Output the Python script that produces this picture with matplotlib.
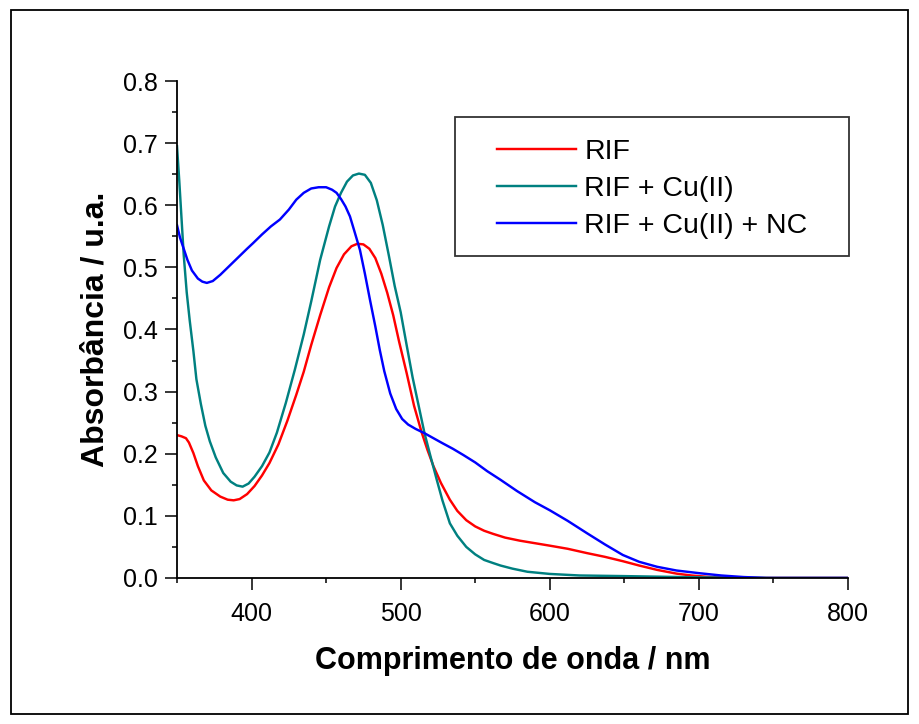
import numpy as np
import matplotlib
matplotlib.use("Agg")
import matplotlib.pyplot as plt
from matplotlib.patches import Rectangle
from matplotlib.ticker import FormatStrFormatter

plt.rcParams['font.family'] = ['Liberation Sans', 'DejaVu Sans']

# UV-Vis spectra (wavelength in nm, absorbance in a.u.)
rif_wl = [350, 353, 356, 358, 361, 364, 368, 373, 379, 384, 388, 392, 397, 402,
          407, 412, 418, 424, 430, 435, 440, 446, 452, 457, 462, 467, 471, 475,
          479, 483, 487, 491, 495, 499, 504, 509, 514, 518, 522, 527, 533, 538,
          544, 550, 556, 562, 570, 580, 590, 600, 612, 625, 637, 649, 660, 672,
          685, 695, 705, 720, 740, 770, 800]
rif_abs = [0.230, 0.228, 0.225, 0.218, 0.201, 0.180, 0.157, 0.141, 0.131, 0.126,
           0.125, 0.127, 0.135, 0.148, 0.165, 0.185, 0.215, 0.253, 0.295, 0.332,
           0.375, 0.423, 0.468, 0.499, 0.521, 0.534, 0.538, 0.537, 0.530, 0.515,
           0.490, 0.459, 0.423, 0.380, 0.330, 0.277, 0.235, 0.206, 0.180, 0.153,
           0.126, 0.108, 0.093, 0.083, 0.076, 0.071, 0.065, 0.060, 0.056, 0.052,
           0.047, 0.040, 0.034, 0.027, 0.020, 0.013, 0.007, 0.004, 0.002, 0.0005,
           0.0, 0.0, 0.0]

cu_wl = [350, 351.5, 353, 354.5, 356.5, 358.5, 361, 363, 366, 369, 372, 376, 381,
         386, 390, 394, 398, 402, 407, 412, 417, 423, 429, 435, 440, 446, 452,
         456, 460, 464, 468, 472, 476, 480, 484, 488, 492, 496, 500, 504, 508,
         512, 516, 520, 524, 528, 533, 538, 544, 550, 556, 562, 567, 575, 585,
         600, 620, 650, 700, 750, 800]
cu_abs = [0.695, 0.640, 0.580, 0.520, 0.460, 0.415, 0.365, 0.320, 0.280, 0.245,
          0.220, 0.194, 0.169, 0.155, 0.149, 0.147, 0.152, 0.163, 0.180, 0.202,
          0.234, 0.282, 0.335, 0.392, 0.445, 0.512, 0.566, 0.598, 0.620, 0.638,
          0.648, 0.651, 0.649, 0.636, 0.608, 0.568, 0.520, 0.470, 0.428, 0.375,
          0.323, 0.278, 0.233, 0.196, 0.160, 0.125, 0.088, 0.068, 0.050, 0.038,
          0.029, 0.024, 0.020, 0.015, 0.010, 0.0065, 0.004, 0.003, 0.001, 0.0,
          0.0]

nc_wl = [350, 352, 354.5, 357, 360, 364, 367, 370, 374, 379, 385, 391, 397, 401,
         407, 413, 419, 425, 430, 435, 440, 445, 450, 454, 457, 460, 463, 466,
         469, 472.7, 476, 479.4, 483, 486, 489, 493, 497, 501, 505, 510, 516,
         522, 528, 535, 542, 550, 558, 567, 578, 590, 600, 612, 625, 637, 649,
         660, 672, 685, 701, 715, 730, 745, 800]
nc_abs = [0.568, 0.548, 0.530, 0.512, 0.495, 0.482, 0.477, 0.475, 0.478, 0.488,
          0.502, 0.516, 0.530, 0.539, 0.553, 0.566, 0.577, 0.593, 0.609, 0.620,
          0.627, 0.629, 0.629, 0.625, 0.620, 0.610, 0.598, 0.582, 0.558, 0.528,
          0.490, 0.448, 0.405, 0.367, 0.333, 0.297, 0.272, 0.256, 0.247, 0.240,
          0.233, 0.225, 0.217, 0.208, 0.198, 0.186, 0.172, 0.158, 0.140, 0.122,
          0.109, 0.092, 0.072, 0.054, 0.037, 0.026, 0.018, 0.012, 0.0075, 0.004,
          0.0015, 0.0, 0.0]

labels = ["RIF", "RIF + Cu(II)", "RIF + Cu(II) + NC"]
colors = ["#FF0000", "#008080", "#0000FF"]

fig = plt.figure(figsize=(9.2, 7.24), dpi=100)
ax = fig.add_axes([0.1924, 0.2017, 0.7293, 0.6864])

# frame around the whole figure
fig.patches.append(Rectangle((0.012, 0.0138), 0.975, 0.972, transform=fig.transFigure,
                             fill=False, edgecolor="black", linewidth=1.3))

lines = []
for wl, ab, lab, c in zip([rif_wl, cu_wl, nc_wl], [rif_abs, cu_abs, nc_abs], labels, colors):
    l, = ax.plot(wl, ab, color=c, linewidth=1.75, label=lab, solid_joinstyle="round")
    lines.append(l)

ax.set_xlim(350, 800)
ax.set_ylim(0, 0.8)
ax.set_xticks([400, 500, 600, 700, 800])
ax.set_xticks([350, 450, 550, 650, 750], minor=True)
ax.set_yticks(np.arange(0, 0.81, 0.1))
ax.set_yticks(np.arange(0.05, 0.8, 0.1), minor=True)
ax.yaxis.set_major_formatter(FormatStrFormatter("%.1f"))

for s in ["top", "right"]:
    ax.spines[s].set_visible(False)
for s in ["left", "bottom"]:
    ax.spines[s].set_linewidth(1.3)

ax.tick_params(which="major", direction="out", length=8.5, width=1.1, labelsize=18)
ax.tick_params(which="minor", direction="out", length=3.5, width=1.1)
ax.tick_params(axis="x", which="major", pad=9)
ax.tick_params(axis="y", which="major", pad=5.5)

ax.set_xlabel("Comprimento de onda / nm", fontsize=22, fontweight="bold", labelpad=14)
ax.set_ylabel("Absorbância / u.a.", fontsize=23, fontweight="bold", labelpad=9)

leg = ax.legend(handles=lines, loc="center", bbox_to_anchor=(0.7086, 0.783),
                frameon=False, fontsize=20.5, handlelength=2.75, handletextpad=0.3,
                labelspacing=0.39, borderpad=0, borderaxespad=0)
ax.add_patch(Rectangle((0.414, 0.648), 0.5875, 0.2797, transform=ax.transAxes,
                       fill=False, edgecolor="#333333", linewidth=1.3, clip_on=False))

fig.savefig("out.png", dpi=100)
